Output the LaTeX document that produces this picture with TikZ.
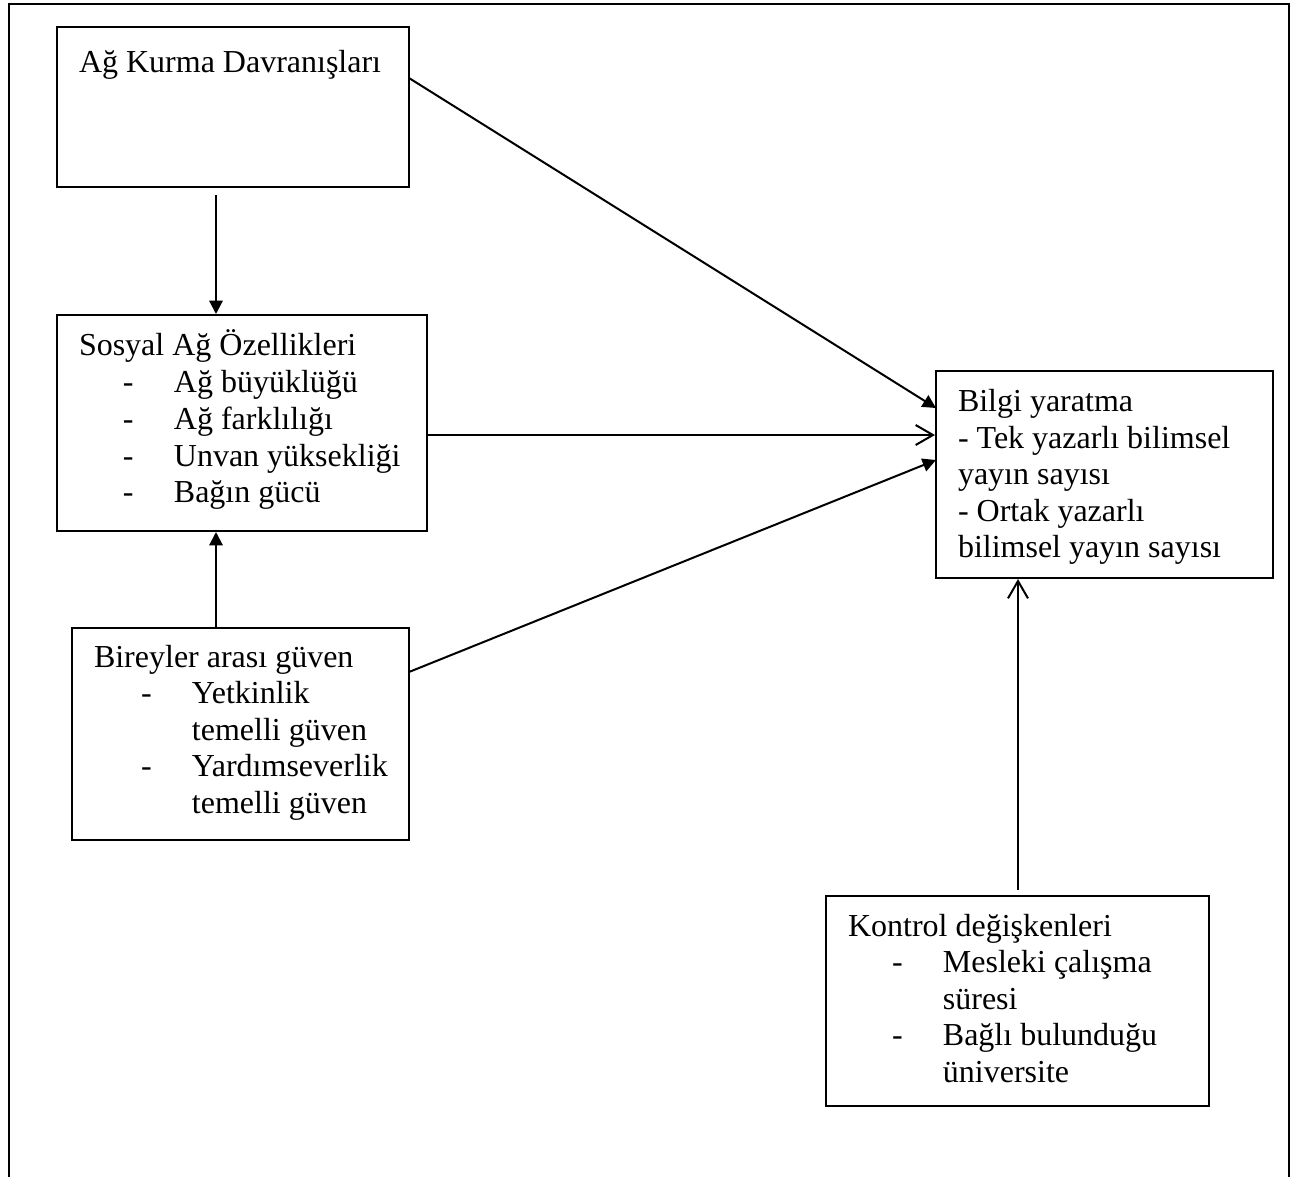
\documentclass[tikz,border=0pt]{standalone}
\usepackage{fontspec}
\setmainfont{Liberation Serif}
\usetikzlibrary{arrows.meta,fit}

\begin{document}
\begin{tikzpicture}[
  x=0.375pt, y=-0.375pt,
  line width=0.75pt,
  box/.style={draw, inner sep=0pt, fit={#1}},
  txt/.style={anchor=base west, inner sep=0pt,
              font=\fontsize{12}{13.7}\selectfont},
  solidtip/.style={-{Triangle[length=5pt,width=5pt]}},
  opentip/.style={-{Straight Barb[length=6.5pt,width=7.5pt]}},
]
\useasboundingbox (0,0) rectangle (1299,1177);

% open frame round the model
\draw (9,1177) -- (9,4) -- (1289,4) -- (1289,1177);

% dash and indent of list items
\newcommand{\itm}[1]{\makebox[19.1pt][l]{-}#1}
\newcommand{\cnt}[1]{\hspace*{19.1pt}#1}

% boxes
\node[box={(57,27) (409,187)}]    (b1) {};
\node[box={(57,315) (427,531)}]   (b2) {};
\node[box={(72,628) (409,840)}]   (b3) {};
\node[box={(936,371) (1273,578)}] (b4) {};
\node[box={(826,896) (1209,1106)}](b5) {};

% texts
\node[txt] (t1) at (78,72) {Ağ Kurma Davranışları};

\node[txt] (t2a) at (78,355)  {Sosyal Ağ Özellikleri};
\node[txt] (t2b) at (122,392) {\itm{Ağ büyüklüğü}};
\node[txt] (t2c) at (122,429) {\itm{Ağ farklılığı}};
\node[txt] (t2d) at (122,466) {\itm{Unvan yüksekliği}};
\node[txt] (t2e) at (122,502) {\itm{Bağın gücü}};

\node[txt] (t3a) at (93,667)  {Bireyler arası güven};
\node[txt] (t3b) at (140,703) {\itm{Yetkinlik}};
\node[txt] (t3c) at (140,740) {\cnt{temelli güven}};
\node[txt] (t3d) at (140,776) {\itm{Yardımseverlik}};
\node[txt] (t3e) at (140,813) {\cnt{temelli güven}};

\node[txt] (t4a) at (957,411) {Bilgi yaratma};
\node[txt] (t4b) at (957,448) {- Tek yazarlı bilimsel};
\node[txt] (t4c) at (957,484) {yayın sayısı};
\node[txt] (t4d) at (957,521) {- Ortak yazarlı};
\node[txt] (t4e) at (957,557) {bilimsel yayın sayısı};

\node[txt] (t5a) at (847,936)  {Kontrol değişkenleri};
\node[txt] (t5b) at (891,972)  {\itm{Mesleki çalışma}};
\node[txt] (t5c) at (891,1009) {\cnt{süresi}};
\node[txt] (t5d) at (891,1045) {\itm{Bağlı bulunduğu}};
\node[txt] (t5e) at (891,1082) {\cnt{üniversite}};

% connector end points
\coordinate (s1) at (216,195);
\coordinate (s2) at (409,78);
\coordinate (e2) at (936,408);
\coordinate (s3) at (427,435);
\coordinate (s4) at (409,672);
\coordinate (e4) at (936,460);
\coordinate (s5) at (216,628);
\coordinate (s6) at (1018,890);

% connectors
\draw[solidtip] (s1) -- (s1 |- b2.north);
\draw[solidtip] (s2) -- (e2);
\draw[opentip]  (s3) -- (s3 -| b4.west);
\draw[solidtip] (s4) -- (e4);
\draw[solidtip] (s5) -- (s5 |- b2.south);
\draw[opentip]  (s6) -- (s6 |- b4.south);
\end{tikzpicture}
\end{document}
